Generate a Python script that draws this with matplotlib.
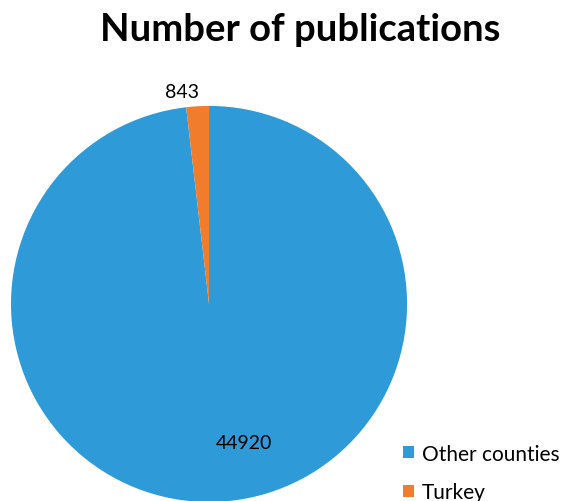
import numpy as np
import matplotlib.pyplot as plt

# Dades del gràfic
categories = ["Other counties", "Turkey"]
values = [44920, 843]
colors = ["#2E9BD8", "#F07C2C"]

plt.rcParams['font.family'] = ['Lato', 'DejaVu Sans']

fig = plt.figure(figsize=(5.61, 5.02), dpi=100)

# Títol
fig.text(0.535, 0.94, "Number of publications", ha="center", va="center",
         fontsize=27.5, fontweight="bold")

# Pastís
ax = fig.add_axes([0.0196, -0.002, 0.706, 0.789])
wedges, _ = ax.pie(values, colors=colors, startangle=90, counterclock=False,
                   radius=1.0, wedgeprops=dict(linewidth=0))
ax.set_xlim(-1, 1)
ax.set_ylim(-1, 1)
ax.set_aspect("equal")
ax.axis("off")

# Etiquetes de valors
label_pos = [(-76, 0.72), (97.2, 1.08)]
for v, (ang, r) in zip(values, label_pos):
    a = np.deg2rad(ang)
    ax.text(r * np.cos(a), r * np.sin(a), str(v), ha="center", va="center",
            fontsize=14)

# Llegenda
leg = fig.legend(wedges, categories, loc="lower left",
                 bbox_to_anchor=(0.685, -0.04), frameon=False, fontsize=15,
                 handlelength=0.55, handleheight=0.55, handletextpad=0.35,
                 labelspacing=0.9)

fig.savefig("out.png", dpi=100)
